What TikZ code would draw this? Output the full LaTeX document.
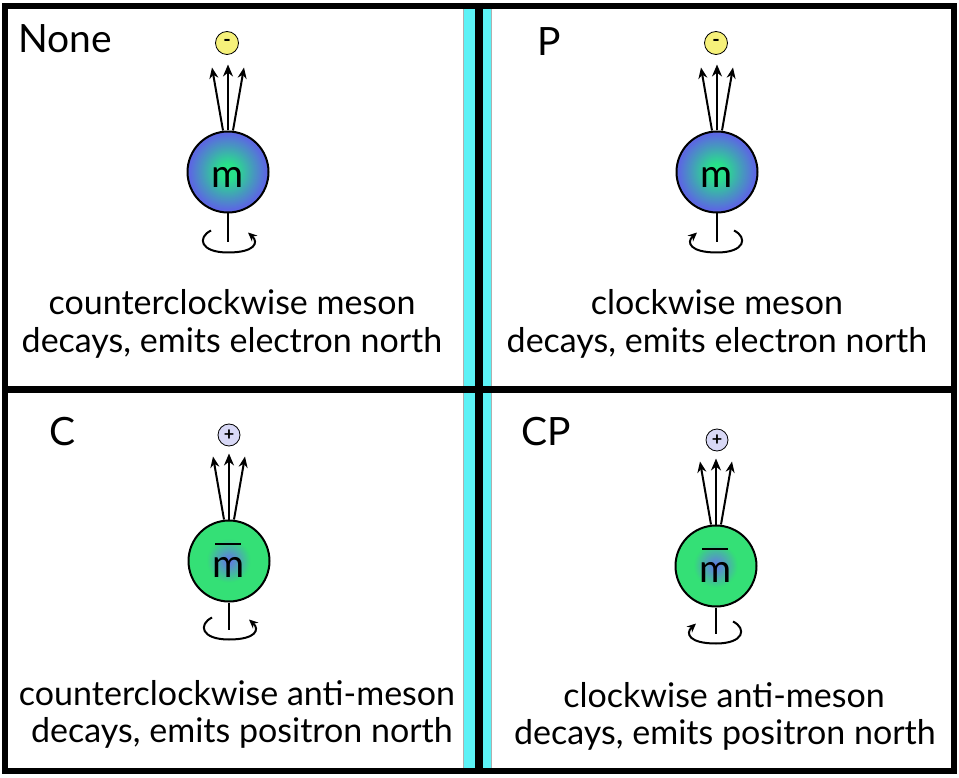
\documentclass[tikz,border=0pt]{standalone}
\usepackage{fontspec}
\setmainfont{Lato}
\usetikzlibrary{arrows.meta}
\definecolor{mgreen}{RGB}{40,226,138}
\definecolor{mblue}{RGB}{92,104,226}
\definecolor{agreen}{RGB}{52,224,118}
\definecolor{ablue}{RGB}{98,122,228}
\definecolor{band}{RGB}{92,242,246}
\definecolor{bandedge}{RGB}{175,175,175}
\definecolor{eyellow}{RGB}{246,241,122}
\definecolor{plav}{RGB}{216,216,246}
\newcommand\mbar{\rlap{\hspace{2.5pt}\rule[32pt]{26pt}{2.2pt}}m}
% gradient ball: #1 centre, #2 inner colour, #3 outer colour, #4 start fraction, #5 end fraction
\newcommand\gradball[5]{%
  \foreach \k in {0,...,40}{%
    \pgfmathsetmacro\rr{40.5*(1-\k/41)}%
    \pgfmathsetmacro\pp{max(0,min(100,100*(\rr/40.5-#4)/(#5-#4)))}%
    \fill[#3!\pp!#2] #1 circle[radius=\rr];
  }}
\begin{document}
\begin{tikzpicture}[x=1pt,y=-1pt,
  meson/.style={circle,draw=black,line width=2pt,minimum size=81pt,inner sep=0pt,
    font=\fontsize{39}{40}\selectfont,text height=32pt,text depth=0pt},
  particle/.style={circle,draw=black,line width=0.8pt,minimum size=23pt,inner sep=0pt,
    font=\fontsize{20}{22}\selectfont\bfseries},
  electron/.style={particle,fill=eyellow},
  positron/.style={particle,fill=plav,minimum size=22pt,font=\fontsize{18}{20}\selectfont\bfseries},
  arrthin/.style={line width=2pt,-{Stealth[length=11pt,width=9pt]}},
  arrthick/.style={line width=2.8pt,-{Stealth[length=12pt,width=10pt]}},
  axisline/.style={line width=2.3pt},
  curlarrow/.style={line width=2pt,-{Stealth[length=9pt,width=8pt]}},
  curl/.pic={\draw[curlarrow] (-17,-12) .. controls (-31,-5) and (-28,10) .. (0,10)
     .. controls (27,10) and (31,0) .. (20,-10);},
  lab/.style={font=\fontsize{39}{44}\selectfont,inner sep=0pt,anchor=base west},
  body/.style={font=\fontsize{34}{37}\selectfont,inner sep=0pt,anchor=base}]
\useasboundingbox (0,0) rectangle (959,778);
\fill[white] (0,0) rectangle (959,778);
% central band
\fill[band] (463,6) rectangle (492,771);
\draw[bandedge,line width=1.5pt] (463.5,6) -- (463.5,771);
\draw[bandedge,line width=1.5pt] (491.5,6) -- (491.5,771);
% frame
\draw[line width=6pt] (5,6) rectangle (954,771);
\draw[line width=7pt] (2,389) -- (957,389);
\draw[line width=8pt] (479,3) -- (479,774);
% labels
\node[lab] (l1) at (18,53) {None};
\node[lab] (l2) at (537,56) {P};
\node[lab] (l3) at (49,445) {C};
\node[lab] (l4) at (521,445) {CP};
% gradient fills
\gradball{(228,172)}{mgreen}{mblue}{0.2}{0.95}
\gradball{(717,172)}{mgreen}{mblue}{0.2}{0.95}
\gradball{(229,561)}{ablue}{agreen}{0.05}{0.55}
\gradball{(716,566)}{ablue}{agreen}{0.05}{0.55}
% panel 1
\node[meson] (m1) at (228,172) {m};
\node[electron] (e1) at (227,43) {-};
\draw[arrthin] ([xshift=-5pt]m1.north) -- ([xshift=-16pt,yshift=63pt]m1.north);
\draw[arrthick] (m1.north) -- ([yshift=66pt]m1.north);
\draw[arrthin] ([xshift=5pt]m1.north) -- ([xshift=16pt,yshift=63pt]m1.north);
\draw[axisline] (m1.south) -- ++(0,29) coordinate (s1);
\pic at (s1) {curl};
% panel 2
\node[meson] (m2) at (717,172) {m};
\node[electron] (e2) at (716,43) {-};
\draw[arrthin] ([xshift=-5pt]m2.north) -- ([xshift=-16pt,yshift=63pt]m2.north);
\draw[arrthick] (m2.north) -- ([yshift=66pt]m2.north);
\draw[arrthin] ([xshift=5pt]m2.north) -- ([xshift=16pt,yshift=63pt]m2.north);
\draw[axisline] (m2.south) -- ++(0,29) coordinate (s2);
\pic[xscale=-1] at (s2) {curl};
% panel 3
\node[meson] (m3) at (229,561) {\mbar};
\node[positron] (e3) at (229,435) {+};
\draw[arrthin] ([xshift=-5pt]m3.north) -- ([xshift=-16pt,yshift=63pt]m3.north);
\draw[arrthick] (m3.north) -- ([yshift=66pt]m3.north);
\draw[arrthin] ([xshift=5pt]m3.north) -- ([xshift=16pt,yshift=63pt]m3.north);
\draw[axisline] (m3.south) -- ++(0,27) coordinate (s3);
\pic at (s3) {curl};
% panel 4
\node[meson] (m4) at (716,566) {\mbar};
\node[positron] (e4) at (717,440) {+};
\draw[arrthin] ([xshift=-5pt]m4.north) -- ([xshift=-16pt,yshift=63pt]m4.north);
\draw[arrthick] (m4.north) -- ([yshift=66pt]m4.north);
\draw[arrthin] ([xshift=5pt]m4.north) -- ([xshift=16pt,yshift=63pt]m4.north);
\draw[axisline] (m4.south) -- ++(0,26) coordinate (s4);
\pic[xscale=-1] at (s4) {curl};
% texts
\node[body] (t1a) at (232,315) {counterclockwise meson};
\node[body] (t1b) at (232,352) {decays, emits electron north};
\node[body] (t2a) at (717,315) {clockwise meson};
\node[body] (t2b) at (717,352) {decays, emits electron north};
\node[body] (t3a) at (237,705) {counterclockwise anti-meson};
\node[body] (t3b) at (242,742) {decays, emits positron north};
\node[body] (t4a) at (724,707) {clockwise anti-meson};
\node[body] (t4b) at (725,744) {decays, emits positron north};
\end{tikzpicture}
\end{document}
